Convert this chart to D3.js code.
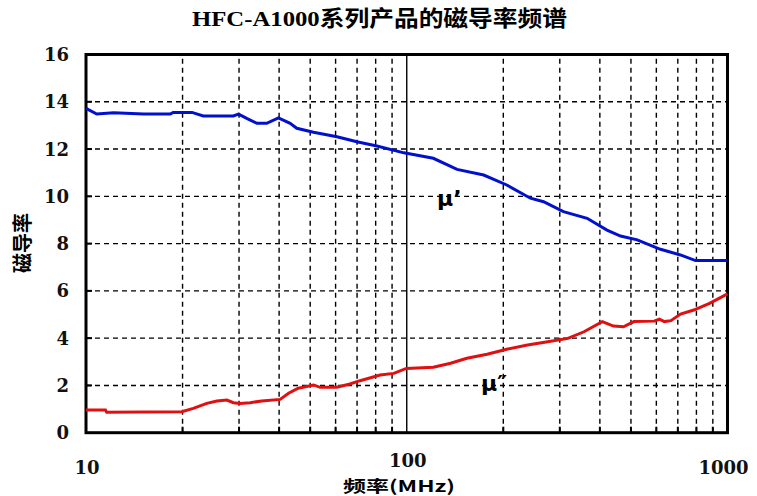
<!DOCTYPE html>
<html>
<head>
    <meta charset="utf-8">
    <script src="https://d3js.org/d3.v7.min.js"></script>
    <style>
        body { margin: 0; background: #fff; }
        .grid line { stroke: #000; stroke-width: 1.4; stroke-dasharray: 5,4; }
        .tick-label { font-family: "DejaVu Serif", serif; font-weight: bold; font-size: 18px; fill: #111; }
    </style>
</head>
<body>
    <script>
        // frequency (MHz) and permeability
        var freqReal = [10, 10.8, 12.2, 15.1, 18.3, 18.7, 21.4, 23.2, 28.8, 29.9, 31.7, 34.1, 36.6, 39.8, 43.3, 45.4, 51.2, 60.6, 69.9, 80.7, 98, 121, 143.5, 173.7, 205, 243, 267, 308, 365, 421, 464, 523, 618, 713, 795, 1000];
        var muReal = [13.72, 13.48, 13.54, 13.48, 13.48, 13.55, 13.55, 13.4, 13.4, 13.48, 13.3, 13.09, 13.09, 13.32, 13.09, 12.88, 12.71, 12.52, 12.31, 12.13, 11.84, 11.61, 11.14, 10.9, 10.48, 9.92, 9.77, 9.35, 9.07, 8.57, 8.32, 8.16, 7.76, 7.52, 7.28, 7.28];

        var freqImag = [10, 11.5, 11.6, 19.9, 21.6, 23.8, 25.6, 27.5, 28.8, 30.2, 32.5, 35.3, 40.3, 42.8, 45.9, 51.2, 53.7, 60.6, 66.5, 71.5, 82.6, 91.1, 99.7, 121, 137, 154, 178, 205, 238, 275, 318, 357, 407, 441, 474, 511, 591, 613, 636, 666, 714, 785, 879, 1000];
        var muImag = [0.96, 0.96, 0.87, 0.89, 1.03, 1.24, 1.34, 1.38, 1.27, 1.24, 1.27, 1.34, 1.41, 1.67, 1.88, 2.02, 1.92, 1.92, 2.06, 2.2, 2.44, 2.51, 2.72, 2.77, 2.94, 3.15, 3.32, 3.53, 3.71, 3.85, 3.99, 4.27, 4.7, 4.51, 4.48, 4.7, 4.72, 4.8, 4.7, 4.74, 5.02, 5.19, 5.47, 5.87];

        var yTicks = [0, 2, 4, 6, 8, 10, 12, 14, 16];
        var xGrid = [20, 30, 40, 50, 60, 70, 80, 90, 200, 300, 400, 500, 600, 700, 800, 900];
        var xLabels = [10, 100, 1000];

        var title = "HFC-A1000系列产品的磁导率频谱";
        var xTitle = "频率(MHz)";
        var yTitle = "磁导率";

        var width = 757, height = 496;
        var plotLeft = 86, plotRight = 727.5, plotTop = 54.5, plotBottom = 432.7;

        var svg = d3.select("body").append("svg")
            .attr("width", width)
            .attr("height", height);

        var x = d3.scaleLog().domain([10, 1000]).range([plotLeft, plotRight]);
        var y = d3.scaleLinear().domain([0, 16]).range([plotBottom, plotTop]);

        var innerY = yTicks.filter(function(d) { return d > 0 && d < 16; });

        // dashed grid
        var grid = svg.append("g").attr("class", "grid");
        grid.selectAll("line.h")
            .data(innerY)
            .enter().append("line")
            .attr("class", "h")
            .attr("x1", plotLeft).attr("x2", plotRight)
            .attr("y1", function(d) { return y(d); })
            .attr("y2", function(d) { return y(d); });
        grid.selectAll("line.v")
            .data(xGrid)
            .enter().append("line")
            .attr("class", "v")
            .attr("y1", plotBottom).attr("y2", plotTop)
            .attr("x1", function(d) { return x(d); })
            .attr("x2", function(d) { return x(d); });

        // solid line at 100 MHz
        svg.append("line")
            .attr("x1", x(100)).attr("x2", x(100))
            .attr("y1", plotTop).attr("y2", plotBottom)
            .attr("stroke", "#000").attr("stroke-width", 1.4);

        // short inward ticks
        svg.append("g").selectAll("line")
            .data(innerY)
            .enter().append("line")
            .attr("x1", plotLeft).attr("x2", plotLeft + 6)
            .attr("y1", function(d) { return y(d); })
            .attr("y2", function(d) { return y(d); })
            .attr("stroke", "#000").attr("stroke-width", 2);
        svg.append("g").selectAll("line")
            .data(xGrid)
            .enter().append("line")
            .attr("y1", plotBottom).attr("y2", plotBottom - 6)
            .attr("x1", function(d) { return x(d); })
            .attr("x2", function(d) { return x(d); })
            .attr("stroke", "#000").attr("stroke-width", 2);

        // frame
        svg.append("rect")
            .attr("x", plotLeft).attr("y", plotTop)
            .attr("width", plotRight - plotLeft).attr("height", plotBottom - plotTop)
            .attr("fill", "none")
            .attr("stroke", "#000").attr("stroke-width", 3);

        var line = d3.line()
            .x(function(d) { return x(d[0]); })
            .y(function(d) { return y(d[1]); });

        svg.append("path")
            .datum(d3.zip(freqReal, muReal))
            .attr("d", line)
            .attr("fill", "none")
            .attr("stroke", "#0010cc")
            .attr("stroke-width", 3);

        svg.append("path")
            .datum(d3.zip(freqImag, muImag))
            .attr("d", line)
            .attr("fill", "none")
            .attr("stroke", "#e01010")
            .attr("stroke-width", 3);

        // y tick labels
        svg.append("g").selectAll("text")
            .data(yTicks)
            .enter().append("text")
            .attr("class", "tick-label")
            .attr("x", 69)
            .attr("y", function(d) { return y(d); })
            .attr("dy", "0.36em")
            .attr("text-anchor", "end")
            .text(function(d) { return d; });

        // x tick labels (100 sits a little higher in the original)
        svg.append("g").selectAll("text")
            .data(xLabels)
            .enter().append("text")
            .attr("class", "tick-label")
            .attr("x", function(d) { return d === 1000 ? x(d) - 4 : x(d) + 1; })
            .attr("y", function(d) { return d === 100 ? 467 : 474; })
            .attr("text-anchor", "middle")
            .text(function(d) { return d; });

        // series labels
        svg.append("text")
            .attr("x", 437).attr("y", 206)
            .style("font-family", "DejaVu Sans, sans-serif")
            .style("font-weight", "bold")
            .style("font-size", "22px")
            .text("μ’");
        svg.append("text")
            .attr("x", 481).attr("y", 391)
            .style("font-family", "DejaVu Sans, sans-serif")
            .style("font-weight", "bold")
            .style("font-size", "22px")
            .text("μ″");

        // titles
        svg.append("text")
            .attr("x", 192).attr("y", 26)
            .attr("textLength", 375)
            .attr("lengthAdjust", "spacingAndGlyphs")
            .style("font-family", "'Liberation Serif', 'Noto Sans CJK SC', serif")
            .style("font-weight", "bold")
            .style("font-size", "22px")
            .text(title);

        svg.append("text")
            .attr("x", 343).attr("y", 492)
            .attr("textLength", 112)
            .attr("lengthAdjust", "spacingAndGlyphs")
            .style("font-family", "'Noto Sans CJK SC', sans-serif")
            .style("font-weight", "bold")
            .style("font-size", "16px")
            .text(xTitle);

        svg.append("text")
            .attr("transform", "translate(30,243) rotate(-90)")
            .attr("text-anchor", "middle")
            .style("font-family", "'Noto Sans CJK SC', sans-serif")
            .style("font-weight", "bold")
            .style("font-size", "20px")
            .text(yTitle);
    </script>
</body>
</html>
